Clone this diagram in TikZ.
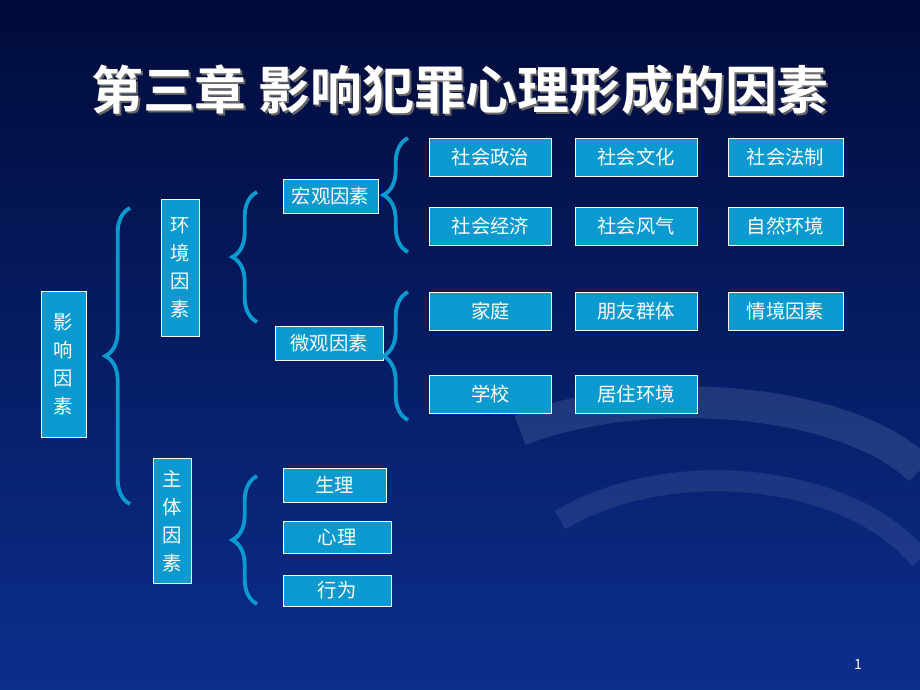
\documentclass[tikz,border=0pt]{standalone}
\usepackage{fontspec}
\setmainfont{Noto Sans CJK SC}
\newfontfamily\titlefont{Noto Sans CJK SC Bold}
\usetikzlibrary{decorations.pathreplacing}
\definecolor{bgtop}{HTML}{000B3A}
\definecolor{bgbot}{HTML}{0C2E8C}
\definecolor{boxcyan}{HTML}{0A9AD0}
\begin{document}
\begin{tikzpicture}[x=0.02cm,y=-0.02cm,
  item/.style={draw=white,fill=boxcyan,text=white,inner sep=0pt,font=\fontsize{11}{13}\selectfont},
  vitem/.style={item,align=center,font=\fontsize{11}{16}\selectfont},
  brace/.style={draw=boxcyan,line width=2.2pt,decorate,decoration={brace,amplitude=14pt}}]
\shade[top color=bgtop,bottom color=bgbot] (0,0) rectangle (920,690);
\useasboundingbox (0,0) rectangle (920,690);
% faint swirl
\draw[bgbot!60!white,opacity=0.25,line width=18pt] (520,430) .. controls (650,380) and (850,400) .. (920,470);
\draw[bgbot!60!white,opacity=0.2,line width=12pt] (560,520) .. controls (680,450) and (860,480) .. (920,560);
% title
\node[text=black!60,font=\titlefont\fontsize{29.5}{32}\selectfont] (shadow) at (462,92) {第三章 影响犯罪心理形成的因素};
\node[text=white,font=\titlefont\fontsize{29.5}{32}\selectfont] (title) at (460,90) {第三章 影响犯罪心理形成的因素};
% left side
\node[vitem,text width=0.9cm,minimum height=2.92cm] (yx) at (63.5,364) {影\\响\\因\\素};
\node[vitem,text width=0.76cm,minimum height=2.74cm] (hj) at (180,268) {环\\境\\因\\素};
\node[vitem,text width=0.76cm,minimum height=2.5cm] (zt) at (172,521) {主\\体\\因\\素};
\node[item,minimum width=1.9cm,minimum height=0.68cm] (hg) at (330.5,196) {宏观因素};
\node[item,minimum width=2.16cm,minimum height=0.68cm] (wg) at (329,343) {微观因素};
% grid
\foreach \t/\x/\y/\w/\n in {社会政治/490.5/157.5/2.44/a1,社会文化/636/157.5/2.44/a2,社会法制/785.5/157.5/2.3/a3,
  社会经济/490.5/226/2.44/b1,社会风气/636/226/2.44/b2,自然环境/785.5/226/2.3/b3,
  家庭/490.5/311/2.44/c1,朋友群体/636/311/2.44/c2,情境因素/785.5/311/2.3/c3,
  学校/490.5/394/2.44/d1,居住环境/636/394/2.44/d2}
  \node[item,minimum width=\w cm,minimum height=0.76cm] (\n) at (\x,\y) {\t};
\node[item,minimum width=2.06cm,minimum height=0.68cm] (sl) at (334.5,485) {生理};
\node[item,minimum width=2.16cm,minimum height=0.64cm] (xl) at (337,537) {心理};
\node[item,minimum width=2.16cm,minimum height=0.62cm] (xw) at (337,590.5) {行为};
% braces
\coordinate (b1s) at (130,504); \coordinate (b1n) at (130,208);
\coordinate (b2s) at (257,322); \coordinate (b2n) at (257,192);
\coordinate (b3s) at (408,252); \coordinate (b3n) at (408,138);
\coordinate (b4s) at (408,420); \coordinate (b4n) at (408,292);
\coordinate (b5s) at (257,604); \coordinate (b5n) at (257,476);
\draw[brace] (b1s) -- (b1n);
\draw[brace] (b2s) -- (b2n);
\draw[brace] (b3s) -- (b3n);
\draw[brace] (b4s) -- (b4n);
\draw[brace] (b5s) -- (b5n);
\node[text=white,font=\fontsize{8}{10}\selectfont] (pg) at (858,664) {1};
\end{tikzpicture}
\end{document}
